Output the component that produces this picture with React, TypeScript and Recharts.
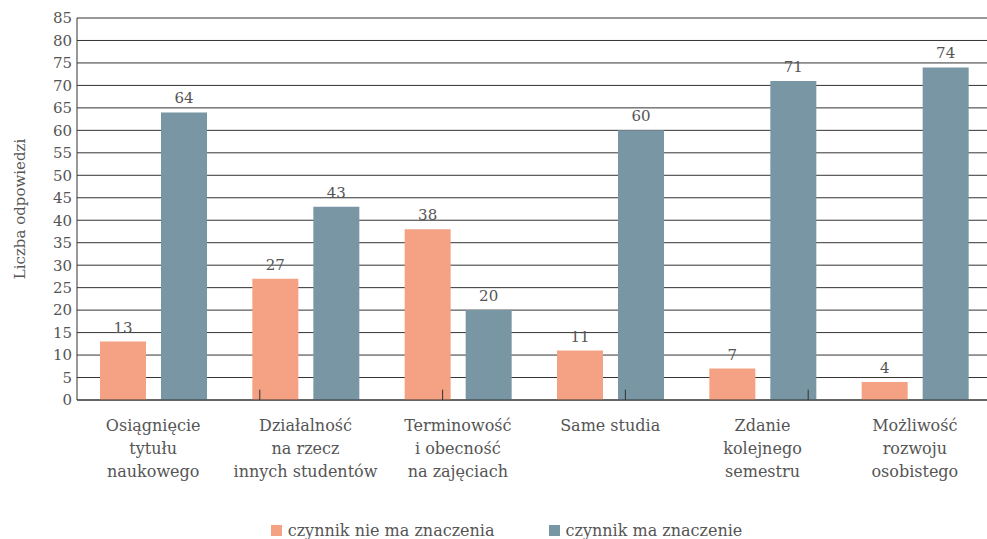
import React from "react";
import {
  BarChart,
  Bar,
  XAxis,
  YAxis,
  CartesianGrid,
  Legend,
  LabelList,
  ReferenceLine,
} from "recharts";

// category labels, split into the lines shown under the axis
const categories = [
  ["Osiągnięcie", "tytułu", "naukowego"],
  ["Działalność", "na rzecz", "innych studentów"],
  ["Terminowość", "i obecność", "na zajęciach"],
  ["Same studia"],
  ["Zdanie", "kolejnego", "semestru"],
  ["Możliwość", "rozwoju", "osobistego"],
];

const notImportant = [13, 27, 38, 11, 7, 4];
const important = [64, 43, 20, 60, 71, 74];

const seriesNames = ["czynnik nie ma znaczenia", "czynnik ma znaczenie"];
const yTicks = [0, 5, 10, 15, 20, 25, 30, 35, 40, 45, 50, 55, 60, 65, 70, 75, 80, 85];
const separators = [1, 2, 3, 4, 5];

const data = categories.map((lines, i) => ({
  name: lines.join(" "),
  nie: notImportant[i],
  ma: important[i],
}));

const FONT = "'DejaVu Serif', serif";
const TEXT = "#555555";
const SALMON = "#F5A184";
const BLUE = "#7896A3";
const LINE = "#333333";

function CategoryTick(props: any) {
  const { x, y, payload } = props;
  const lines = categories[payload.index] || [payload.value];
  return (
    <text x={x} y={y} textAnchor="middle" fill={TEXT} fontSize={16} fontFamily={FONT}>
      {lines.map((l: string, i: number) => (
        <tspan key={i} x={x} dy={i === 0 ? 23 : 23}>
          {l}
        </tspan>
      ))}
    </text>
  );
}

function LegendContent() {
  const colors = [SALMON, BLUE];
  return (
    <div
      style={{
        display: "flex",
        justifyContent: "center",
        alignItems: "center",
        height: 24,
        paddingLeft: 22,
        paddingTop: 3,
        fontFamily: FONT,
        fontSize: 16,
        color: TEXT,
      }}
    >
      {seriesNames.map((n, i) => (
        <div key={n} style={{ display: "flex", alignItems: "center", marginRight: i === 0 ? 54 : 0 }}>
          <span style={{ width: 11, height: 11, background: colors[i], marginRight: 6, display: "inline-block" }} />
          <span>{n}</span>
        </div>
      ))}
    </div>
  );
}

export default function App() {
  return (
    <div style={{ position: "absolute", left: 0, top: 0, width: 987, height: 539, overflow: "hidden" }}>
      <BarChart
        width={987}
        height={539}
        data={data}
        margin={{ top: 18, right: -4, left: 0, bottom: 0 }}
        barSize={46}
        barGap={15}
      >
        <CartesianGrid vertical={false} stroke={LINE} />
        <XAxis
          dataKey="name"
          axisLine={{ stroke: LINE }}
          tickLine={false}
          height={115}
          interval={0}
          tick={<CategoryTick />}
        />
        <XAxis xAxisId="sep" type="number" domain={[0, 6]} hide />
        <YAxis
          domain={[0, 85]}
          ticks={yTicks}
          interval={0}
          width={77}
          axisLine={{ stroke: LINE }}
          tickLine={false}
          tickSize={0}
          tickMargin={5}
          tick={{ fill: TEXT, fontSize: 15, fontFamily: FONT }}
          label={{
            value: "Liczba odpowiedzi",
            angle: -90,
            position: "insideLeft",
            offset: 20,
            style: { textAnchor: "middle", fill: TEXT, fontSize: 15, fontFamily: FONT },
          }}
        />
        {separators.map((s) => (
          <ReferenceLine
            key={s}
            xAxisId="sep"
            segment={[
              { x: s, y: 0 },
              { x: s, y: 2.3 },
            ]}
            stroke={LINE}
            ifOverflow="visible"
          />
        ))}
        <Legend verticalAlign="bottom" height={24} content={<LegendContent />} />
        <Bar dataKey="nie" name={seriesNames[0]} fill={SALMON} isAnimationActive={false}>
          <LabelList dataKey="nie" position="top" offset={9} fill={TEXT} fontSize={15} fontFamily={FONT} />
        </Bar>
        <Bar dataKey="ma" name={seriesNames[1]} fill={BLUE} isAnimationActive={false}>
          <LabelList dataKey="ma" position="top" offset={9} fill={TEXT} fontSize={15} fontFamily={FONT} />
        </Bar>
      </BarChart>
    </div>
  );
}
